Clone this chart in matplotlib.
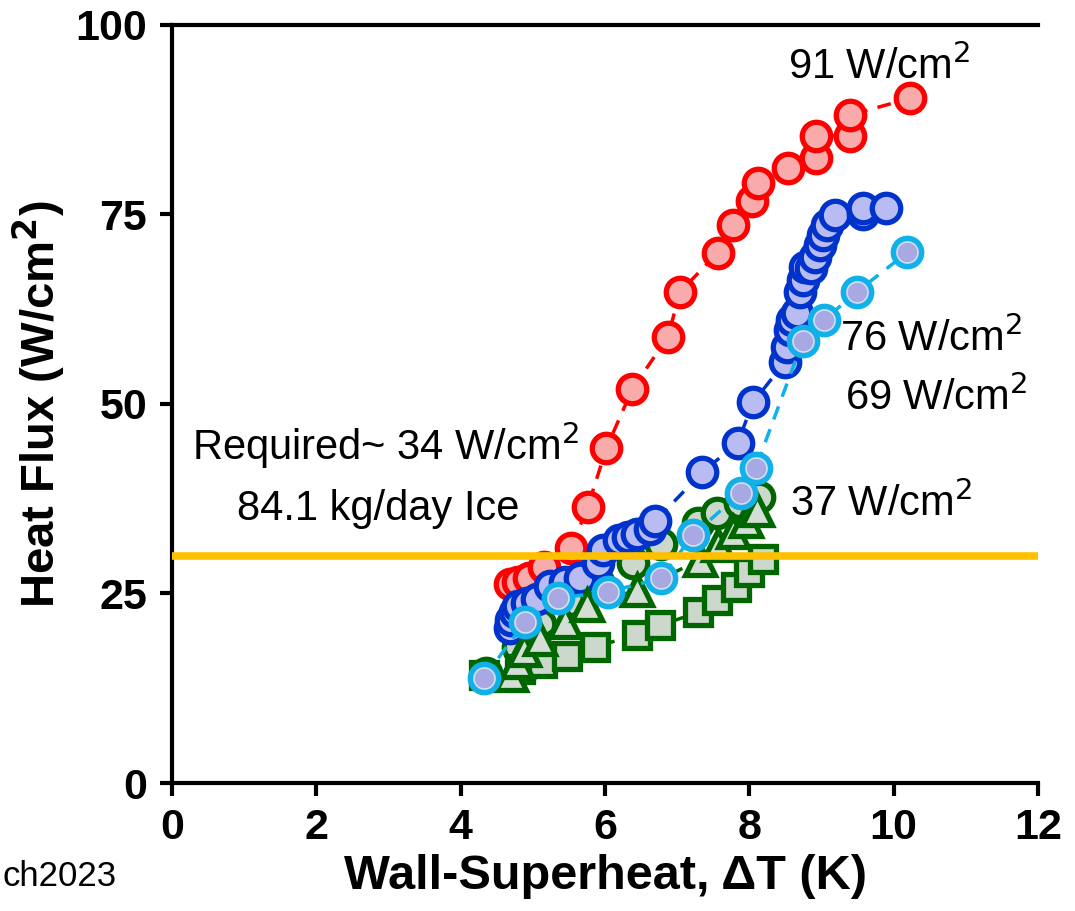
import numpy as np
import matplotlib.pyplot as plt

plt.rcParams['font.family'] = ['Liberation Sans', 'DejaVu Sans']

# ---- data ----
red_x = [4.68, 4.80, 4.95, 5.15, 5.53, 5.76, 6.02, 6.38, 6.87, 7.04, 7.56, 7.77,
         8.03, 8.12, 8.53, 8.93, 8.93, 9.39, 9.39, 10.22]
red_y = [26.3, 26.5, 27.0, 28.5, 31.0, 36.4, 44.2, 52.0, 58.8, 64.8, 69.9, 73.6,
         76.8, 79.2, 81.1, 82.5, 85.4, 85.4, 88.1, 90.3]

blue_x = [4.68, 4.70, 4.75, 4.80, 4.92, 5.06, 5.24, 5.45, 5.65, 5.90, 5.97, 6.20,
          6.32, 6.45, 6.62, 6.69, 7.35, 7.84, 8.05, 8.49, 8.52, 8.56, 8.59, 8.66,
          8.70, 8.74, 8.77, 8.86, 8.91, 8.98, 9.02, 9.07, 9.18, 9.57, 9.57, 9.90]
blue_y = [20.5, 21.5, 22.5, 23.3, 23.8, 24.3, 26.0, 26.5, 27.0, 29.0, 30.8, 32.0,
          32.5, 32.8, 33.5, 34.5, 41.0, 44.9, 50.2, 55.5, 57.5, 59.8, 61.1, 62.0,
          64.8, 66.4, 68.1, 67.9, 69.4, 71.0, 72.3, 73.6, 74.9, 75.0, 75.9, 75.9]

cyan_x = [4.32, 4.89, 5.35, 6.04, 6.77, 7.22, 7.88, 8.09, 8.74, 9.04, 9.49, 10.19]
cyan_y = [13.9, 21.2, 24.4, 25.2, 27.0, 32.7, 38.3, 41.6, 58.3, 61.1, 64.8, 70.0]

gcirc_x = [4.35, 4.80, 5.10, 5.50, 5.90, 6.39, 6.78, 7.29, 7.55, 7.87, 8.14]
gcirc_y = [14.5, 18.0, 21.0, 24.0, 26.5, 29.0, 31.5, 34.3, 35.6, 36.9, 37.7]

tri_x = [4.70, 4.78, 4.88, 5.10, 5.44, 5.75, 6.44, 7.31, 7.56, 7.77, 7.95, 8.10]
tri_y = [14.2, 16.0, 17.5, 19.0, 21.2, 23.5, 25.4, 29.4, 31.4, 33.1, 34.5, 36.0]

sq_x = [4.32, 4.82, 5.12, 5.47, 5.86, 6.44, 6.76, 7.29, 7.55, 7.82, 8.00, 8.19]
sq_y = [14.2, 15.0, 15.8, 16.7, 18.0, 19.5, 20.8, 22.5, 24.2, 25.8, 27.8, 29.6]

required_flux = 30

fig = plt.figure(figsize=(10.75, 9.11), dpi=100)
ax = fig.add_axes([0.16, 0.1405, 0.8056, 0.8321])

ms = 20.5
mew = 3.8

ax.plot(red_x, red_y, ls=(0, (4, 3)), color='#FF0000', lw=2.5, marker='o', ms=ms,
        mfc='#F9AAAA', mec='#FF0000', mew=mew, zorder=3)
ax.plot(gcirc_x, gcirc_y, ls=(0, (4, 3)), color='#006400', lw=2.5, marker='o', ms=ms,
        mfc='#CCD8CC', mec='#006600', mew=mew, zorder=4)
ax.plot(blue_x, blue_y, ls=(0, (4, 3)), color='#0033CC', lw=2.5, marker='o', ms=ms,
        mfc='#B8BCF2', mec='#0033CC', mew=mew, zorder=5)
ax.plot(sq_x, sq_y, ls=(0, (4, 3)), color='#006600', lw=2.5, marker='s', ms=ms - 1.5,
        mfc='#CCD8CC', mec='#006600', mew=mew, zorder=6)
ax.plot(tri_x, tri_y, ls=(0, (4, 3)), color='#006600', lw=2.5, marker='^', ms=ms + 1,
        mfc='#D4DED4', mec='#006600', mew=mew, zorder=7)
ax.plot(cyan_x, cyan_y, ls=(0, (4, 3)), color='#10B0E8', lw=2.5, marker='o', ms=ms,
        mfc='#A8A8E2', mec='#10B0E8', mew=mew, zorder=8)
ax.plot(cyan_x, cyan_y, ls='none', marker='o', ms=ms - 5.5, mfc='none',
        mec='#C8E8F8', mew=1.0, zorder=9)

ax.axhline(required_flux, color='#FFC000', lw=5.5, zorder=10)

fs = 30
ax.text(9.8, 94.5, '91 W/cm$^2$', fontsize=fs, ha='center', va='center')
ax.text(9.25, 58.6, '76 W/cm$^2$', fontsize=fs, ha='left', va='center')
ax.text(9.32, 50.8, '69 W/cm$^2$', fontsize=fs, ha='left', va='center')
ax.text(8.56, 36.9, '37 W/cm$^2$', fontsize=fs, ha='left', va='center')
ax.text(0.28, 44.5, 'Required~ 34 W/cm$^2$', fontsize=fs, ha='left', va='center')
ax.text(0.9, 36.2, '84.1 kg/day Ice', fontsize=fs, ha='left', va='center')

fig.text(0.002, 1 - 876 / 911, 'ch2023', fontsize=25, ha='left', va='center')

ax.set_xlim(0, 12)
ax.set_ylim(0, 100)
ax.set_xticks(np.arange(0, 13, 2))
ax.set_yticks(np.arange(0, 101, 25))
ax.tick_params(direction='out', length=9, width=3, labelsize=31, pad=9)
for lab in ax.get_xticklabels() + ax.get_yticklabels():
    lab.set_fontweight('bold')
for s in ['left', 'bottom', 'top']:
    ax.spines[s].set_linewidth(3)
ax.spines['right'].set_visible(False)

ax.set_xlabel('Wall-Superheat, ΔT (K)', fontsize=35, fontweight='bold', labelpad=4)
ax.set_ylabel('Heat Flux (W/cm$^\\mathbf{2}$)', fontsize=34, fontweight='bold', labelpad=6)

fig.savefig('out.png', dpi=100)
